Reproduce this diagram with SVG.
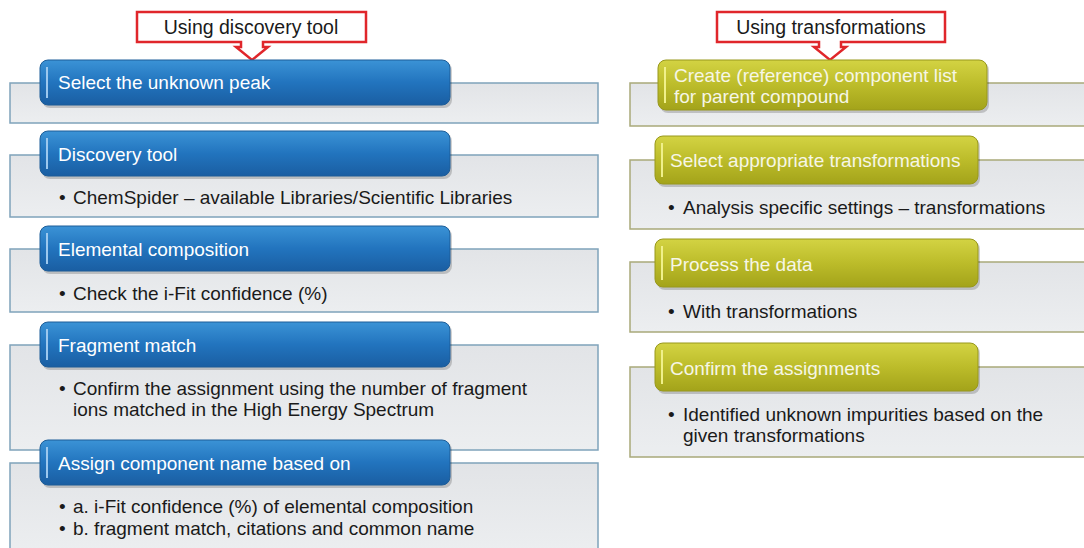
<svg xmlns="http://www.w3.org/2000/svg" width="1084" height="548" viewBox="0 0 1084 548">
<defs>
<linearGradient id="gBlue" x1="0" y1="0" x2="0" y2="1">
<stop offset="0" stop-color="#3b93d6"/>
<stop offset="0.5" stop-color="#2274be"/>
<stop offset="1" stop-color="#1a5ea2"/>
</linearGradient>
<linearGradient id="gOlive" x1="0" y1="0" x2="0" y2="1">
<stop offset="0" stop-color="#d3d343"/>
<stop offset="0.5" stop-color="#bcbc2a"/>
<stop offset="1" stop-color="#a3a31a"/>
</linearGradient>
<linearGradient id="gGray" x1="0" y1="0" x2="0" y2="1">
<stop offset="0" stop-color="#e2e4e7"/>
<stop offset="1" stop-color="#eceef0"/>
</linearGradient>
</defs>
<style>
.t{font-family:"Liberation Sans",Arial,sans-serif;font-size:19px}
.c{font-size:19.5px}
.hd{fill:#ffffff}
.hdo{fill:#f6f6e6}
.bd{fill:#1a1a1a}
.grayL{fill:url(#gGray);stroke:#7fa3bb;stroke-width:1.5}
.grayR{fill:url(#gGray);stroke:#a9a97a;stroke-width:1.5}
.blue{fill:url(#gBlue);stroke:#1d5d98;stroke-width:1}
.olive{fill:url(#gOlive);stroke:#98981c;stroke-width:1}
.shadow{fill:#000;opacity:0.18}
.hlB{stroke:#9cc8ee;stroke-width:2;fill:none}
.hlO{stroke:#f0f08a;stroke-width:2;fill:none}
.callout{fill:#ffffff;stroke:#e0262b;stroke-width:2.5;stroke-linejoin:miter}
</style>

<g id="callout-left">
<path class="callout" d="M137,12 H366 V42 H263 V47 H268 L252,60 L236,47 H241 V42 H137 Z"/>
<text class="t c bd" x="251" y="34" text-anchor="middle">Using discovery tool</text>
</g>
<g id="callout-right">
<path class="callout" d="M717,12 H945 V42 H841 V47 H846 L830,60 L814,47 H819 V42 H717 Z"/>
<text class="t c bd" x="831" y="34" text-anchor="middle">Using transformations</text>
</g>

<g id="connectors"></g>

<!-- Left column -->
<g id="L1">
<rect class="grayL" x="10" y="83" width="588" height="40"/>
<rect class="shadow" x="42" y="62" width="410" height="46" rx="8"/>
<rect class="blue" x="40" y="60" width="410" height="45" rx="8"/>
<line class="hlB" x1="47" y1="67" x2="47" y2="98"/>
<text class="t hd" x="58" y="89">Select the unknown peak</text>
</g>
<g id="L2">
<rect class="grayL" x="10" y="155" width="588" height="62"/>
<rect class="shadow" x="42" y="133" width="410" height="46" rx="8"/>
<rect class="blue" x="40" y="131" width="410" height="45" rx="8"/>
<line class="hlB" x1="47" y1="138" x2="47" y2="169"/>
<text class="t hd" x="58" y="161">Discovery tool</text>
<text class="t bd" x="59" y="204">•</text>
<text class="t bd" x="73" y="204">ChemSpider – available Libraries/Scientific Libraries</text>
</g>
<g id="L3">
<rect class="grayL" x="10" y="249" width="588" height="63"/>
<rect class="shadow" x="42" y="228" width="410" height="46" rx="8"/>
<rect class="blue" x="40" y="226" width="410" height="45" rx="8"/>
<line class="hlB" x1="47" y1="233" x2="47" y2="264"/>
<text class="t hd" x="58" y="256">Elemental composition</text>
<text class="t bd" x="59" y="300">•</text>
<text class="t bd" x="73" y="300">Check the i-Fit confidence (%)</text>
</g>
<g id="L4">
<rect class="grayL" x="10" y="345" width="588" height="105"/>
<rect class="shadow" x="42" y="324" width="410" height="46" rx="8"/>
<rect class="blue" x="40" y="322" width="410" height="45" rx="8"/>
<line class="hlB" x1="47" y1="329" x2="47" y2="360"/>
<text class="t hd" x="58" y="352">Fragment match</text>
<text class="t bd" x="59" y="395">•</text>
<text class="t bd" x="73" y="395">Confirm the assignment using the number of fragment</text>
<text class="t bd" x="73" y="416">ions matched in the High Energy Spectrum</text>
</g>
<g id="L5">
<rect class="grayL" x="10" y="463" width="588" height="90"/>
<rect class="shadow" x="42" y="442" width="410" height="46" rx="8"/>
<rect class="blue" x="40" y="440" width="410" height="45" rx="8"/>
<line class="hlB" x1="47" y1="447" x2="47" y2="478"/>
<text class="t hd" x="58" y="470">Assign component name based on</text>
<text class="t bd" x="59" y="513">•</text>
<text class="t bd" x="73" y="513">a. i-Fit confidence (%) of elemental composition</text>
<text class="t bd" x="59" y="535">•</text>
<text class="t bd" x="73" y="535">b. fragment match, citations and common name</text>
</g>

<!-- Right column -->
<g id="R1">
<rect class="grayR" x="630" y="83" width="460" height="43"/>
<rect class="shadow" x="660" y="62" width="329" height="51" rx="8"/>
<rect class="olive" x="658" y="60" width="329" height="50" rx="8"/>
<line class="hlO" x1="665" y1="67" x2="665" y2="103"/>
<text class="t hdo" x="674" y="82">Create (reference) component list</text>
<text class="t hdo" x="674" y="103">for parent compound</text>
</g>
<g id="R2">
<rect class="grayR" x="630" y="160" width="460" height="69"/>
<rect class="shadow" x="657" y="138" width="323" height="49" rx="8"/>
<rect class="olive" x="655" y="136" width="323" height="48" rx="8"/>
<line class="hlO" x1="662" y1="143" x2="662" y2="177"/>
<text class="t hdo" x="670" y="167">Select appropriate transformations</text>
<text class="t bd" x="668" y="214">•</text>
<text class="t bd" x="683" y="214">Analysis specific settings – transformations</text>
</g>
<g id="R3">
<rect class="grayR" x="630" y="262" width="460" height="70"/>
<rect class="shadow" x="657" y="241" width="323" height="49" rx="8"/>
<rect class="olive" x="655" y="239" width="323" height="48" rx="8"/>
<line class="hlO" x1="662" y1="246" x2="662" y2="280"/>
<text class="t hdo" x="670" y="271">Process the data</text>
<text class="t bd" x="668" y="318">•</text>
<text class="t bd" x="683" y="318">With transformations</text>
</g>
<g id="R4">
<rect class="grayR" x="630" y="367" width="460" height="90"/>
<rect class="shadow" x="657" y="345" width="323" height="49" rx="8"/>
<rect class="olive" x="655" y="343" width="323" height="48" rx="8"/>
<line class="hlO" x1="662" y1="350" x2="662" y2="384"/>
<text class="t hdo" x="670" y="375">Confirm the assignments</text>
<text class="t bd" x="668" y="421">•</text>
<text class="t bd" x="683" y="421">Identified unknown impurities based on the</text>
<text class="t bd" x="683" y="442">given transformations</text>
</g>
</svg>
